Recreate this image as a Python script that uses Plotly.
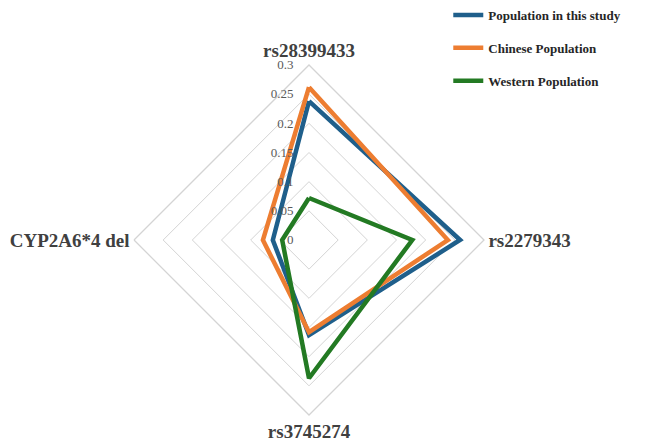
import plotly.graph_objects as go

categories = ["rs28399433", "rs2279343", "rs3745274", "CYP2A6*4 del"]
series_names = ["Population in this study", "Chinese Population", "Western Population"]
study = [0.238, 0.259, 0.163, 0.062]
chinese = [0.262, 0.238, 0.158, 0.079]
western = [0.072, 0.177, 0.237, 0.046]
colors = ["#1F5F8B", "#ED7D31", "#237A23"]
tick_vals = [0, 0.05, 0.1, 0.15, 0.2, 0.25, 0.3]
tick_labels = ["0", "0.05", "0.1", "0.15", "0.2", "0.25", "0.3"]


def pad(label):
    # small invisible filler so the end-anchored label sits a little left of the axis
    return label + "<span style='color:rgba(255,255,255,0)'>00</span>"


tick_text = [pad(t) for t in tick_labels]

fig = go.Figure()
for i, (name, vals) in enumerate(zip(series_names, [study, chinese, western])):
    fig.add_trace(go.Scatterpolar(
        r=vals + vals[:1],
        theta=categories + categories[:1],
        mode="lines",
        name=name,
        legendgroup=str(i),
        line=dict(color=colors[i], width=4.5),
    ))

W, H = 645, 448
cx, cy, R = 309, 240, 175
fig.update_layout(
    width=W, height=H,
    margin=dict(l=0, r=0, t=0, b=0),
    paper_bgcolor="white",
    plot_bgcolor="white",
    font=dict(family="Liberation Serif", color="#404040"),
    polar=dict(
        domain=dict(x=[(cx - R) / W, (cx + R) / W], y=[(H - cy - R) / H, (H - cy + R) / H]),
        bgcolor="white",
        gridshape="linear",
        radialaxis=dict(
            range=[0, 0.3], tickvals=tick_vals, ticktext=tick_text,
            angle=90, tickangle=90, showline=False, ticks="",
            gridcolor="#D4D4D4", gridwidth=1.3,
            tickfont=dict(size=13, color="#595959", family="Liberation Serif"),
            side="counterclockwise", layer="above traces",
        ),
        angularaxis=dict(
            direction="clockwise", rotation=90,
            showgrid=False, showline=True, linecolor="#D4D4D4", linewidth=1.3,
            ticks="",
            tickfont=dict(size=19, color="#404040", family="Liberation Serif"),
            layer="below traces",
        ),
    ),
    legend=dict(
        x=0.695, y=1.0, xanchor="left", yanchor="top",
        font=dict(size=13, family="Liberation Serif", color="#262626", weight="bold"),
        tracegroupgap=13, itemwidth=30,
        bgcolor="rgba(0,0,0,0)",
    ),
)
fig.update_polars(angularaxis_tickfont_weight="bold")
fig.write_html("out.html")
